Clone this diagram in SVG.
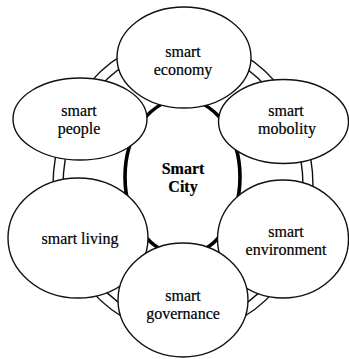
<svg xmlns="http://www.w3.org/2000/svg" width="349" height="359" viewBox="0 0 349 359">
  <style>
    .ring { fill: none; stroke: #111; stroke-width: 1.4; }
    .hub { fill: #fff; stroke: #000; stroke-width: 3.6; }
    .node { fill: #fff; stroke: #111; stroke-width: 1.4; }
    text { font-family: 'Liberation Serif', 'DejaVu Serif', serif; font-size: 16px; fill: #000; stroke: #000; stroke-width: 0.2; text-anchor: middle; }
    .hub-label { font-weight: bold; }
  </style>

  <!-- double ring linking the six components -->
  <g id="connectors">
    <ellipse class="ring" cx="183" cy="186" rx="130" ry="148"/>
    <ellipse class="ring" cx="183" cy="186" rx="120" ry="138"/>
  </g>

  <g id="smart-city">
    <ellipse class="hub" cx="182.5" cy="177" rx="57.5" ry="78"/>
    <text class="hub-label" x="183" y="174">Smart<tspan x="183" dy="18">City</tspan></text>
  </g>

  <g id="smart-economy">
    <ellipse class="node" cx="184" cy="57.5" rx="67" ry="50.5"/>
    <text x="183" y="57">smart<tspan x="183" dy="18">economy</tspan></text>
  </g>

  <g id="smart-people">
    <ellipse class="node" cx="80" cy="119" rx="67" ry="41"/>
    <text x="79" y="116">smart<tspan x="79" dy="18">people</tspan></text>
  </g>

  <g id="smart-mobility">
    <ellipse class="node" cx="283.5" cy="121.5" rx="65" ry="42"/>
    <text x="286" y="116">smart<tspan x="287" dy="18">mobolity</tspan></text>
  </g>

  <g id="smart-living">
    <ellipse class="node" cx="78" cy="238" rx="70" ry="60"/>
    <text x="80" y="244">smart living</text>
  </g>

  <g id="smart-environment">
    <ellipse class="node" cx="283" cy="239" rx="65.5" ry="59"/>
    <text x="286" y="237">smart<tspan x="286" dy="18">environment</tspan></text>
  </g>

  <g id="smart-governance">
    <ellipse class="node" cx="183" cy="300" rx="65" ry="57"/>
    <text x="183" y="301">smart<tspan x="183" dy="18">governance</tspan></text>
  </g>
</svg>
